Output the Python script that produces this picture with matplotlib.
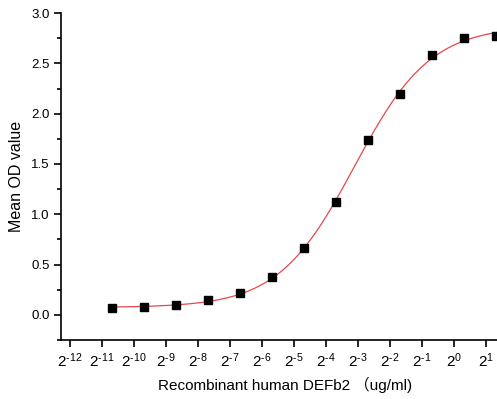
import numpy as np
import matplotlib
matplotlib.use("Agg")
import matplotlib.pyplot as plt
from matplotlib.ticker import MultipleLocator, FixedLocator

plt.rcParams['font.family'] = ['Liberation Sans', 'Noto Sans CJK SC', 'DejaVu Sans']
plt.rcParams['mathtext.fontset'] = 'custom'
plt.rcParams['mathtext.rm'] = 'Liberation Sans'
plt.rcParams['mathtext.it'] = 'Liberation Sans'

# Data: concentration (ug/ml) as 2.5 / 2^k, mean OD
conc_log2 = [-10.68, -9.68, -8.68, -7.68, -6.68, -5.68, -4.68, -3.68, -2.68, -1.68, -0.68, 0.32, 1.32]
od_values = [0.067, 0.073, 0.093, 0.146, 0.218, 0.374, 0.668, 1.125, 1.735, 2.195, 2.585, 2.754, 2.77]
xtick_exps = list(range(-12, 2))

t = np.array(conc_log2)
y = np.array(od_values)

# 4-parameter logistic fit (grid over midpoint & slope, linear solve for bottom/top)
best = None
for c in np.linspace(-5, -2, 301):
    for s in np.linspace(0.5, 2.0, 151):
        f = 1.0 / (1.0 + 2.0 ** ((c - t) * s))
        A = np.column_stack([1 - f, f])
        coef, *_ = np.linalg.lstsq(A, y, rcond=None)
        r = np.sum((A @ coef - y) ** 2)
        if best is None or r < best[0]:
            best = (r, c, s, coef)
_, c0, s0, (bot, top) = best
tt = np.linspace(min(t), max(t), 400)
ff = 1.0 / (1.0 + 2.0 ** ((c0 - tt) * s0))
yy = bot * (1 - ff) + top * ff

fig = plt.figure(figsize=(4.97, 3.99), dpi=100)
ax = fig.add_axes([0.1227, 0.148, 0.903, 0.819])
ax.plot(tt, yy, color='#e8474a', lw=0.9, zorder=2)
ax.plot(t, y, 's', color='black', ms=5.8, zorder=3)

ax.set_xlim(-12.28, 1.75)
ax.set_ylim(-0.25, 3.0)
ax.spines['top'].set_visible(False)
ax.spines['right'].set_visible(False)
for sp in ax.spines.values():
    sp.set_linewidth(1.2)

ax.xaxis.set_major_locator(FixedLocator(xtick_exps))
ax.set_xticklabels([r'$2^{\text{-%d}}$' % (-e) if e < 0 else r'$2^{%d}$' % e for e in xtick_exps])
ax.yaxis.set_major_locator(MultipleLocator(0.5))
ax.yaxis.set_minor_locator(MultipleLocator(0.25))
ax.set_yticks([0.0, 0.5, 1.0, 1.5, 2.0, 2.5, 3.0])
ax.set_yticklabels(['0.0', '0.5', '1.0', '1.5', '2.0', '2.5', '3.0'])
ax.tick_params(axis='both', which='major', direction='out', length=5, width=1.2)
ax.tick_params(axis='y', which='major', labelsize=9.5, pad=3)
ax.tick_params(axis='x', which='major', labelsize=11, pad=3)
ax.tick_params(axis='y', which='minor', direction='out', length=3, width=1.2)

ax.set_xlabel('Recombinant human DEFb2 （ug/ml)', fontsize=11, labelpad=5)
ax.set_ylabel('Mean OD value', fontsize=11.5, labelpad=5)

fig.savefig('out.png', dpi=100)
